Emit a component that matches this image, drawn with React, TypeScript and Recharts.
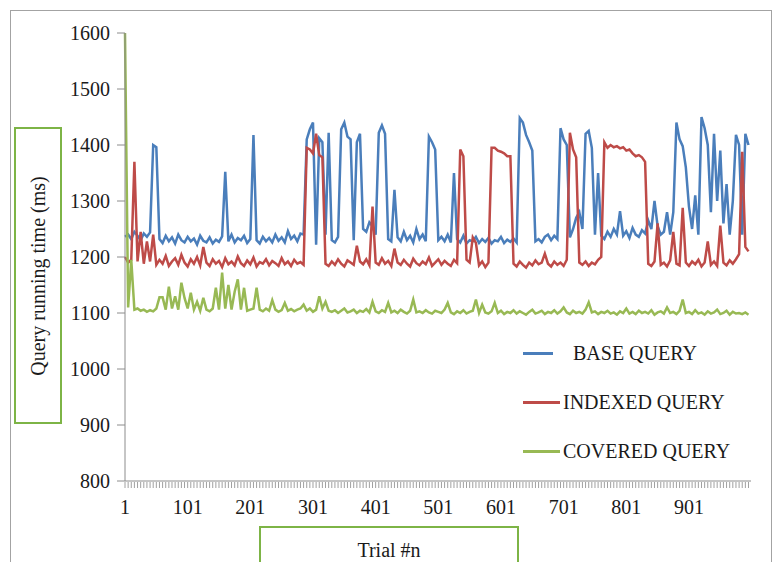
import { LineChart, Line, XAxis, YAxis, ReferenceLine } from "recharts"

// trials are sampled every 5th run: 1, 6, 11, ... 996
const trialStep = 5

const baseQuery = [
  1236, 1240, 1232, 1245, 1238, 1230, 1242, 1236, 1244,
  1400, 1396,
  1232, 1225, 1238, 1228, 1235, 1224, 1240, 1230, 1226, 1236, 1228, 1233, 1222, 1238, 1229, 1226, 1235, 1224, 1231, 1227, 1237,
  1352,
  1228, 1240, 1226, 1234, 1230, 1238, 1225, 1232,
  1418,
  1230, 1224, 1236, 1228, 1234, 1226, 1240, 1229, 1235, 1226, 1246, 1232, 1238, 1228, 1242,
  1240, 1410, 1428, 1440, 1222, 1412, 1405, 1240, 1422, 1230,
  1226, 1236, 1428, 1440, 1415, 1410, 1230, 1405, 1420, 1250, 1245, 1262, 1255, 1240,
  1422, 1435, 1420, 1232, 1228, 1320,
  1235, 1228, 1245, 1230, 1238, 1226, 1250, 1232, 1240, 1228,
  1415, 1405, 1392, 1230, 1236, 1228, 1240, 1226, 1350,
  1232, 1226, 1238, 1224, 1230, 1228, 1236, 1225, 1232, 1227, 1234, 1224, 1230, 1228, 1236, 1225, 1231, 1227, 1233, 1226,
  1448, 1440, 1418, 1405, 1390, 1228, 1232, 1226, 1236, 1240, 1230, 1238, 1232,
  1430, 1410, 1400, 1235, 1250, 1270, 1280, 1250, 1420, 1425, 1395, 1240, 1350, 1238,
  1232, 1245, 1236, 1250, 1240, 1282, 1238, 1246, 1234, 1252, 1240, 1236, 1248, 1242, 1265, 1250, 1300, 1255, 1240, 1245, 1280, 1240,
  1280, 1440, 1410, 1398, 1360, 1290, 1250, 1310, 1240, 1450, 1430, 1400, 1280, 1420, 1300, 1390, 1260, 1330, 1240, 1300, 1418, 1400, 1240, 1420, 1400,
]

const indexedQuery = [
  1200, 1190, 1195, 1370, 1192, 1245, 1188, 1228, 1192, 1240, 1186,
  1195, 1188, 1202, 1184, 1192, 1198, 1186, 1204, 1190, 1183, 1196, 1188, 1200, 1185,
  1218,
  1190, 1184, 1196, 1188, 1193, 1182, 1198, 1187, 1192, 1185, 1201, 1189, 1184, 1194, 1187, 1199, 1183, 1191, 1188, 1196,
  1185, 1193, 1189, 1184, 1198, 1187, 1192, 1184, 1195, 1188, 1191, 1186,
  1395, 1392, 1385, 1420, 1382, 1378, 1188,
  1184, 1192, 1186, 1196, 1188, 1183, 1194, 1190, 1186, 1220, 1192, 1187, 1196, 1185, 1290, 1190, 1186, 1198, 1188, 1193, 1184, 1215,
  1190, 1186, 1195, 1188, 1183, 1197, 1189, 1185, 1192, 1187, 1199, 1184, 1190, 1196, 1186, 1193, 1188, 1184, 1195, 1189,
  1392, 1380, 1195, 1190, 1235, 1225, 1185, 1192, 1182, 1190,
  1395, 1395, 1390, 1388, 1385, 1380, 1380,
  1188, 1183, 1192, 1186, 1181, 1190, 1185, 1194, 1187, 1190, 1206, 1188, 1183, 1192, 1186, 1190, 1184, 1195,
  1422, 1392, 1378, 1190,
  1186, 1192, 1184, 1190, 1187, 1195, 1200,
  1405, 1395, 1400, 1396, 1398, 1394, 1396, 1390, 1392, 1385, 1380, 1382, 1378, 1370,
  1188, 1184, 1192, 1260, 1186, 1190, 1183, 1194, 1245, 1188, 1185, 1288, 1190, 1184, 1192, 1187, 1195, 1183, 1190, 1228,
  1186, 1192, 1184, 1256, 1190, 1185, 1194, 1188, 1196, 1205, 1388, 1218, 1210,
]

const coveredQuery = [
  1600, 1110, 1195, 1106, 1108, 1104, 1106, 1102, 1105, 1103, 1108,
  1128, 1128, 1106, 1147, 1108, 1130, 1106, 1154, 1127, 1108, 1136, 1106, 1120, 1104, 1127, 1106, 1103, 1108, 1145,
  1106, 1172, 1108, 1150, 1106, 1138, 1160, 1106, 1145, 1104,
  1106, 1108, 1145, 1106, 1103, 1108, 1104, 1123, 1106, 1102, 1105, 1118, 1104, 1107, 1103, 1106, 1108, 1115, 1104, 1108,
  1102, 1106, 1130, 1108, 1120, 1104,
  1102, 1105, 1100, 1104, 1108, 1101, 1103, 1106, 1100, 1104,
  1102, 1107, 1101, 1120, 1103, 1100, 1105, 1102, 1118, 1101,
  1104, 1100, 1106, 1102, 1099, 1104, 1124, 1101, 1103, 1100,
  1105, 1101, 1099, 1104, 1102, 1100, 1106, 1118, 1101, 1098,
  1103, 1100, 1105, 1099, 1102, 1104, 1124, 1100, 1115, 1101,
  1099, 1103, 1118, 1100, 1104, 1098, 1102, 1100, 1105, 1099,
  1103, 1100, 1097, 1102, 1106, 1099, 1101, 1104, 1098, 1102,
  1100, 1105, 1099, 1103, 1110, 1101, 1098, 1104, 1100, 1102,
  1099, 1106, 1119, 1101, 1103, 1098, 1102, 1100, 1104, 1099,
  1101, 1097, 1103, 1100, 1108, 1099, 1102, 1098, 1104, 1100,
  1102, 1099, 1105, 1097, 1101, 1103, 1099, 1110, 1100, 1102,
  1098, 1104, 1124, 1100, 1102, 1098, 1105, 1099, 1101, 1097,
  1103, 1099, 1101, 1106, 1098, 1100, 1104, 1097, 1102, 1099,
  1100, 1098, 1101, 1097,
]

const labelTicks = [1, 101, 201, 301, 401, 501, 601, 701, 801, 901]
const yTicks = [800, 900, 1000, 1100, 1200, 1300, 1400, 1500, 1600]

const data = baseQuery.map((v, i) => ({
  trial: 1 + i * trialStep,
  base: v,
  indexed: indexedQuery[i],
  covered: coveredQuery[i],
}))

const minorTicks = data.map((d) => d.trial)

const serif = "'Liberation Serif', 'DejaVu Serif', serif"
const blue = "#4a7ebb"
const red = "#be4b48"
const green = "#98b954"
const boxGreen = "#7db446"
const axisGray = "#8c8c8c"

// label axis is a 1px strip hugging the plot; its text is pushed down below the minor ticks
const renderXTick = (props: any) => {
  const { x, y, payload } = props
  return (
    <text x={x} y={y + 19} dy="0.71em" textAnchor="middle" fill="#1a1a1a" fontSize={20} style={{ fontFamily: serif }}>
      {payload.value}
    </text>
  )
}

const renderYTick = (props: any) => {
  const { x, y, payload } = props
  return (
    <text x={x} y={y} dy="0.35em" textAnchor="end" fill="#1a1a1a" fontSize={20} style={{ fontFamily: serif }}>
      {payload.value}
    </text>
  )
}

const legendItems = [
  { label: "BASE QUERY", color: blue, top: 353, lineW: 30, textX: 573 },
  { label: "INDEXED QUERY", color: red, top: 402, lineW: 37, textX: 563 },
  { label: "COVERED QUERY", color: green, top: 451, lineW: 37, textX: 563 },
]

export default function App() {
  return (
    <div style={{ position: "absolute", left: 0, top: 0, width: 774, height: 562, overflow: "hidden", background: "#fff" }}>
      <div style={{ position: "absolute", left: 10, top: 10, width: 760, height: 600, border: "1.5px solid #a3a3a3" }} />

      <LineChart
        width={774}
        height={562}
        data={data}
        margin={{ top: 33, right: 23, left: 65, bottom: 50 }}
        style={{ position: "absolute", left: 0, top: 0 }}
      >
        {/* dense minor tick marks, one per plotted trial */}
        <XAxis
          xAxisId="minor"
          dataKey="trial"
          type="number"
          domain={[1, 1000]}
          ticks={minorTicks}
          interval={0}
          height={30}
          tickSize={6}
          stroke="#a0a0a0"
          axisLine={false}
          tickLine={{ stroke: "#a0a0a0", strokeWidth: 1 }}
          tick={() => <g />}
        />
        <XAxis
          dataKey="trial"
          type="number"
          domain={[1, 1000]}
          ticks={labelTicks}
          interval={0}
          height={1}
          tickSize={0}
          tickMargin={0}
          axisLine={false}
          tickLine={false}
          tick={renderXTick}
        />
        <YAxis
          type="number"
          domain={[800, 1600]}
          ticks={yTicks}
          width={60}
          tickSize={8}
          tickMargin={7}
          stroke={axisGray}
          tick={renderYTick}
        />
        <ReferenceLine y={800} stroke={axisGray} strokeWidth={1} />
        <Line type="linear" dataKey="base" stroke={blue} strokeWidth={2.5} dot={false} isAnimationActive={false} />
        <Line type="linear" dataKey="indexed" stroke={red} strokeWidth={2.5} dot={false} isAnimationActive={false} />
        <Line type="linear" dataKey="covered" stroke={green} strokeWidth={2.5} dot={false} isAnimationActive={false} />
      </LineChart>

      {/* y axis title box */}
      <div
        style={{
          position: "absolute",
          left: 14,
          top: 127,
          width: 44,
          height: 293,
          border: `2px solid ${boxGreen}`,
        }}
      >
        <div
          style={{
            position: "absolute",
            left: "50%",
            top: "50%",
            transform: "translate(-50%, -50%) rotate(-90deg)",
            whiteSpace: "nowrap",
            fontFamily: serif,
            fontSize: 20,
            color: "#1a1a1a",
          }}
        >
          Query running time (ms)
        </div>
      </div>

      {/* x axis title box */}
      <div
        style={{
          position: "absolute",
          left: 259,
          top: 526,
          width: 260,
          height: 60,
          border: `2px solid ${boxGreen}`,
          textAlign: "center",
          fontFamily: serif,
          fontSize: 20,
          color: "#1a1a1a",
          lineHeight: "20px",
          paddingTop: 12,
          boxSizing: "border-box",
        }}
      >
        Trial #n
      </div>

      {legendItems.map((it) => (
        <div key={it.label}>
          <div style={{ position: "absolute", left: 523, top: it.top - 1, width: it.lineW, height: 3, background: it.color }} />
          <div
            style={{
              position: "absolute",
              left: it.textX,
              top: it.top - 12,
              fontFamily: serif,
              fontSize: 20,
              lineHeight: "24px",
              color: "#1a1a1a",
              whiteSpace: "nowrap",
            }}
          >
            {it.label}
          </div>
        </div>
      ))}
    </div>
  )
}
